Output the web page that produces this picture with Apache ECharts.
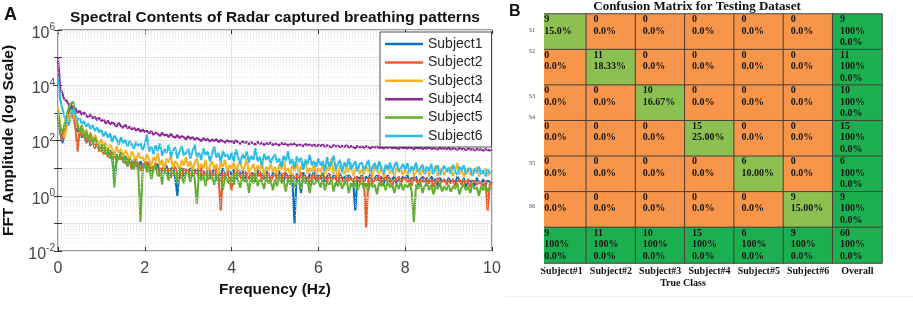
<!DOCTYPE html>
<html><head><meta charset="utf-8">
<script src="https://cdn.jsdelivr.net/npm/echarts@6/dist/echarts.min.js"></script>
<style>html,body{margin:0;padding:0;background:#fff}#c{width:913px;height:309px}</style>
</head><body><div id="c"></div>
<script>
// ---------- Panel A: spectral contents (values are log10 of FFT amplitude) ----------
const frequencyHz = Array.from({length: 201}, (_, i) => +(i * 0.05).toFixed(2));
const subjectNames = ['Subject1', 'Subject2', 'Subject3', 'Subject4', 'Subject5', 'Subject6'];
const subject1Log = [
2.9,2.3,1.9,2.2,2.7,3.0,3.2,2.9,2.6,2.3,2.45,2.1,2.3,1.9,2.15,1.8,2.05,1.75,1.9,1.65,
1.85,1.55,1.75,1.45,1.65,1.35,0.45,1.5,1.3,1.6,1.25,1.45,1.15,1.4,1.05,1.3,1.2,0.95,1.25,1.05,
1.15,0.9,1.2,0.8,1.05,0.95,1.15,0.7,1.0,0.85,1.1,0.75,0.95,1.05,0.65,0.0,0.9,1.0,0.7,0.95,
0.85,1.0,0.7,0.95,0.8,1.05,0.6,0.9,0.75,1.0,0.65,0.85,0.95,0.55,0.9,0.7,1.0,0.6,0.8,0.9,
0.75,0.95,0.6,0.85,0.7,1.0,0.55,0.8,0.9,0.65,0.85,0.5,0.95,0.7,0.8,0.6,0.9,0.75,0.55,0.85,
0.8,0.6,0.9,0.7,0.5,0.85,0.65,0.75,0.55,-1.0,0.8,0.6,0.1,0.85,0.7,0.5,0.8,0.65,0.9,0.55,
0.75,0.6,0.85,0.5,0.7,0.8,0.55,0.75,0.65,0.45,0.8,0.6,0.7,0.5,0.75,0.65,0.55,-0.55,0.7,0.6,
0.75,0.5,0.7,0.6,0.8,0.45,0.65,0.75,0.55,0.7,0.4,0.65,0.75,0.5,0.6,0.7,0.45,0.65,0.55,0.7,
0.6,0.75,0.5,0.65,0.55,0.7,0.4,0.6,0.7,0.5,0.65,0.45,0.7,0.55,0.6,0.35,0.65,0.5,0.6,0.45,
0.65,0.5,0.6,0.4,0.7,0.55,0.45,0.65,0.3,0.6,0.5,0.55,0.35,0.65,0.5,0.45,0.6,0.4,0.55,0.5,0.45];
const subject2Log = [
3.1,2.4,2.0,2.3,2.6,2.95,3.1,2.85,2.5,1.6,2.4,2.15,2.35,1.95,2.2,1.85,2.1,1.7,1.95,1.6,
1.8,1.5,1.7,1.4,1.6,1.3,1.55,1.2,1.45,1.3,1.5,1.15,1.35,1.25,0.95,1.3,1.1,1.2,0.9,1.15,
1.05,1.25,0.85,1.1,0.95,1.2,0.75,1.0,0.9,1.15,0.8,1.0,0.65,0.95,1.05,0.75,0.9,0.6,1.0,0.85,
0.95,0.7,1.0,0.8,0.9,0.6,1.05,0.75,0.85,0.55,0.95,0.7,0.8,1.0,0.65,-0.55,0.85,0.7,0.9,0.6,
0.2,0.85,0.65,0.95,0.7,0.55,0.9,0.75,0.6,0.85,0.5,0.8,0.7,0.9,0.55,0.75,0.65,0.85,0.5,0.7,
0.8,0.6,0.75,0.5,0.85,0.65,0.7,0.45,0.8,0.6,0.75,0.55,0.85,0.5,0.7,0.65,0.4,0.75,0.6,0.8,
0.55,0.75,0.6,0.7,0.45,0.8,0.55,0.65,0.75,0.5,0.7,0.6,0.4,0.75,0.55,0.65,0.5,0.7,0.6,0.45,
0.7,0.55,-1.15,0.6,0.7,0.45,0.65,0.55,0.75,0.4,0.6,0.7,0.5,0.65,0.35,0.6,0.55,0.7,0.45,0.6,
0.65,0.5,0.6,0.35,0.7,0.55,0.45,0.6,0.5,0.65,0.4,0.55,0.6,0.3,0.55,0.65,0.45,0.5,0.6,0.4,
0.55,0.45,0.6,0.35,0.5,0.6,0.4,0.55,0.45,0.6,0.3,0.5,0.55,0.4,0.5,0.45,0.35,0.55,-0.55,0.45,0.4];
const subject3Log = [
3.2,2.6,2.3,2.1,2.45,2.8,3.05,3.15,2.8,2.5,2.35,2.55,2.2,2.4,2.05,2.3,1.95,2.2,2.0,1.85,
2.05,1.75,1.95,1.6,1.85,1.7,1.45,1.8,1.55,1.7,1.4,1.65,1.5,1.3,1.6,1.45,1.25,1.55,1.35,1.4,
1.2,1.5,1.3,1.05,1.4,1.25,1.55,1.1,1.3,0.95,1.35,1.2,1.45,1.0,1.25,1.15,0.9,1.3,1.1,1.4,
1.05,1.25,0.9,1.2,1.35,0.95,1.15,1.0,1.3,0.85,1.1,1.25,0.95,1.15,0.8,1.2,1.05,1.3,0.9,1.1,
1.0,1.2,0.85,1.1,1.25,0.9,1.05,1.35,0.8,1.0,1.15,0.85,1.1,0.95,1.2,0.75,1.05,0.9,1.15,0.85,
1.05,0.8,1.15,0.95,1.25,0.85,1.0,0.75,1.1,0.9,1.2,0.8,1.05,0.95,1.3,0.8,1.0,0.88,1.12,0.78,
1.0,0.85,1.15,0.75,1.05,0.9,1.35,0.8,1.0,0.7,1.1,0.9,0.78,1.05,0.85,1.2,0.72,0.95,1.05,0.8,
0.95,0.75,1.1,0.85,1.0,0.7,1.15,0.9,0.8,1.05,0.68,0.95,1.1,0.8,0.9,0.72,1.02,0.85,0.95,0.75,
1.0,0.78,0.92,1.08,0.7,0.88,1.0,0.75,0.95,0.82,1.05,0.7,0.9,0.8,1.1,0.72,0.88,0.98,0.75,0.92,
0.85,1.05,0.72,0.9,1.18,0.78,0.95,0.7,0.88,1.0,0.75,0.92,0.82,1.05,0.7,0.9,0.8,0.98,0.72,0.85,0.8];
const subject4Log = [
5.02,3.88,3.7,3.48,3.44,3.28,3.3,3.12,3.18,3.0,3.08,2.92,3.02,2.9,2.84,2.95,2.8,2.86,2.74,2.82,
2.7,2.76,2.62,2.72,2.58,2.66,2.6,2.5,2.64,2.52,2.46,2.58,2.44,2.5,2.4,2.47,2.36,2.43,2.32,2.4,
2.3,2.36,2.25,2.34,2.2,2.3,2.24,2.16,2.28,2.18,2.22,2.12,2.24,2.14,2.1,2.2,2.08,2.16,2.12,2.04,
2.16,2.06,2.12,2.02,2.1,2.04,1.98,2.09,2.0,2.06,1.96,2.04,1.98,2.05,1.94,2.02,1.97,1.92,2.01,1.95,
1.98,1.9,2.0,1.93,1.88,1.97,1.91,1.95,1.86,1.94,1.9,1.85,1.95,1.88,1.92,1.84,1.91,1.87,1.93,1.83,
1.9,1.86,1.82,1.92,1.85,1.89,1.81,1.88,1.84,1.9,1.8,1.86,1.83,1.79,1.88,1.82,1.86,1.8,1.85,1.78,
1.84,1.8,1.86,1.77,1.83,1.79,1.75,1.84,1.78,1.82,1.76,1.81,1.77,1.83,1.74,1.8,1.76,1.72,1.81,1.75,
1.79,1.73,1.8,1.76,1.71,1.78,1.74,1.79,1.72,1.76,1.7,1.77,1.73,1.78,1.71,1.75,1.72,1.69,1.77,1.72,
1.75,1.7,1.76,1.72,1.68,1.75,1.71,1.74,1.69,1.73,1.7,1.76,1.68,1.72,1.7,1.67,1.74,1.69,1.72,1.68,
1.73,1.67,1.71,1.69,1.66,1.72,1.68,1.7,1.65,1.71,1.67,1.69,1.64,1.7,1.66,1.68,1.63,1.69,1.66,1.64,1.67];
const subject5Log = [
3.0,2.5,2.2,2.6,2.9,3.2,3.35,3.4,3.0,2.6,2.3,2.55,2.1,2.35,2.0,2.25,1.85,2.1,1.9,1.75,
1.6,1.85,1.5,1.7,1.35,1.6,0.3,1.45,1.3,1.55,1.2,1.4,1.05,1.35,1.15,0.95,1.3,1.0,-0.95,0.9,
1.2,0.85,1.1,0.6,0.95,1.15,0.7,0.9,0.4,1.0,0.8,0.55,0.95,0.75,0.85,0.5,1.0,0.7,0.45,0.85,
0.8,0.5,0.95,0.6,-0.3,0.85,0.55,0.75,0.35,0.9,0.6,0.7,0.4,0.8,0.5,0.65,0.2,0.75,0.55,0.45,
0.7,0.4,0.85,0.55,0.3,0.75,0.5,0.6,0.1,0.7,0.45,0.8,0.35,0.6,0.5,0.25,0.7,0.45,0.55,0.2,
0.6,0.35,0.75,0.45,0.55,0.15,0.65,0.4,0.7,0.3,0.5,0.6,0.25,0.7,0.45,0.55,0.1,0.6,0.4,0.5,
0.55,0.3,0.65,0.2,0.5,0.4,0.6,0.15,0.5,0.35,0.55,0.25,0.45,0.6,0.1,0.45,0.3,0.55,0.2,0.4,
0.5,0.25,0.45,0.15,0.55,0.3,0.4,0.05,0.5,0.35,0.45,0.2,0.55,0.3,0.4,0.1,0.45,0.25,0.5,0.2,
0.4,0.3,0.45,0.15,-0.95,0.4,0.25,0.5,0.1,0.35,0.45,0.2,0.4,0.05,0.35,0.25,0.45,0.15,0.35,0.2,
0.4,0.15,0.35,0.25,0.45,0.05,0.3,0.4,0.2,0.35,0.1,0.4,0.25,0.3,0.0,0.35,0.2,0.4,0.15,0.3,0.25];
const subject6Log = [
4.25,3.5,3.15,2.85,2.7,2.55,2.9,3.15,2.95,2.75,2.8,2.6,2.7,2.5,2.62,2.42,2.55,2.35,2.48,2.3,
2.38,2.15,2.32,2.1,2.25,1.95,2.18,2.05,1.85,2.12,1.9,2.02,1.78,1.98,1.85,1.7,1.95,1.8,1.9,1.65,
1.85,2.2,1.6,1.78,1.5,1.82,1.62,1.9,1.45,1.7,1.55,1.85,1.4,1.65,1.75,1.35,1.6,1.8,1.45,1.55,
1.7,1.35,1.6,1.85,1.4,1.55,1.3,1.72,1.48,1.6,1.25,1.5,1.78,1.38,1.55,1.2,1.62,1.42,1.5,1.3,
1.55,1.25,1.68,1.4,1.15,1.5,1.35,1.6,1.2,1.45,1.3,1.72,1.25,1.4,1.1,1.52,1.3,1.45,1.18,1.38,
1.5,1.2,1.35,1.05,1.45,1.25,1.6,1.15,1.32,1.0,1.42,1.22,1.38,0.95,1.3,1.15,1.48,1.1,1.25,1.05,
1.35,1.1,1.25,0.9,1.4,1.05,1.2,1.45,0.95,1.15,1.3,0.85,1.2,1.05,1.35,0.95,1.1,1.25,0.88,1.15,
1.2,0.92,1.1,1.3,0.85,1.05,1.18,0.9,1.25,1.0,0.8,1.12,0.95,1.2,0.85,1.08,1.22,0.9,1.0,1.15,
0.95,1.18,0.82,1.05,0.92,1.2,0.85,1.0,1.12,0.78,1.05,0.9,1.15,0.8,0.98,1.1,0.75,0.95,1.08,0.88,
1.02,0.8,1.12,0.9,0.75,1.05,0.92,1.1,0.78,0.95,1.0,0.72,0.98,0.85,1.05,0.78,0.92,0.7,0.95,0.82,0.9];
const subjectLogs = [subject1Log, subject2Log, subject3Log, subject4Log, subject5Log, subject6Log];
const subjectColors = ['#0b6fbf', '#f05b27', '#f6b21d', '#8b2a95', '#5fae2f', '#27bdeb'];
const frequencyTicks = [0, 2, 4, 6, 8, 10];

// ---------- Panel B: confusion matrix ----------
const classLabels = ['Subject#1', 'Subject#2', 'Subject#3', 'Subject#4', 'Subject#5', 'Subject#6', 'Overall'];
const rowLabels = ['S1', 'S2', 'S3', 'S4', 'S5', 'S6'];
const confusionCounts = [
  [9, 0, 0, 0, 0, 0],
  [0, 11, 0, 0, 0, 0],
  [0, 0, 10, 0, 0, 0],
  [0, 0, 0, 15, 0, 0],
  [0, 0, 0, 0, 6, 0],
  [0, 0, 0, 0, 0, 9]
];
const confusionPct = [
  ['15.0%', '0.0%', '0.0%', '0.0%', '0.0%', '0.0%'],
  ['0.0%', '18.33%', '0.0%', '0.0%', '0.0%', '0.0%'],
  ['0.0%', '0.0%', '16.67%', '0.0%', '0.0%', '0.0%'],
  ['0.0%', '0.0%', '0.0%', '25.00%', '0.0%', '0.0%'],
  ['0.0%', '0.0%', '0.0%', '0.0%', '10.00%', '0.0%'],
  ['0.0%', '0.0%', '0.0%', '0.0%', '0.0%', '15.00%']
];
const rowTotals = [9, 11, 10, 15, 6, 9];
const colTotals = [9, 11, 10, 15, 6, 9];
const overallTotal = 60;
const correctPct = '100%';
const errorPct = '0.0%';

const SANS = '"Liberation Sans", Arial, Helvetica, sans-serif';
const SERIF = '"Liberation Serif", "Times New Roman", serif';
const ORANGE = '#f7964a', LIGHTGREEN = '#8cc152', DARKGREEN = '#1caf50';

const cells = [];
for (let r = 0; r < 7; r++) {
  for (let c = 0; c < 7; c++) {
    let text, color, count;
    if (r < 6 && c < 6) {
      count = confusionCounts[r][c];
      text = count + '\n' + confusionPct[r][c];
      color = r === c ? LIGHTGREEN : ORANGE;
    } else {
      count = r < 6 ? rowTotals[r] : (c < 6 ? colTotals[c] : overallTotal);
      text = count + '\n' + correctPct + '\n' + errorPct;
      color = DARKGREEN;
    }
    cells.push({ value: [c, r, count], itemStyle: { color: color }, label: { formatter: text } });
  }
}

const minorGridValues = [];
for (let k = -2; k < 6; k++) for (let m = 2; m < 10; m++) minorGridValues.push(m * Math.pow(10, k));

const chart = echarts.init(document.getElementById('c'), null, { renderer: 'canvas' });

const lineSeries = subjectNames.map((name, i) => ({
  name: name,
  type: 'line',
  xAxisIndex: 0, yAxisIndex: 0,
  data: frequencyHz.map((f, j) => [f, Math.pow(10, subjectLogs[i][j])]),
  showSymbol: false,
  symbol: 'none',
  color: subjectColors[i],
  lineStyle: { width: 2.1, color: subjectColors[i] },
  emphasis: { disabled: true },
  animation: false,
  z: 3
}));

const option = {
  animation: false,
  backgroundColor: '#ffffff',
  title: [
    { text: 'Spectral Contents of Radar captured breathing patterns', left: 275, top: 10, padding: 0, textAlign: 'center',
      textStyle: { fontFamily: SANS, fontWeight: 'bold', fontSize: 15.5, color: '#111' } },
    { text: 'Confusion Matrix for Testing Dataset', left: 697, top: 0, padding: 0, textAlign: 'center',
      textStyle: { fontFamily: SERIF, fontWeight: 'bold', fontSize: 13, color: '#111' } }
  ],
  legend: {
    data: subjectNames,
    orient: 'vertical',
    left: 380, top: 32,
    icon: 'rect', itemWidth: 38, itemHeight: 2.5, itemGap: 2.4,
    padding: [4, 9, 3, 5],
    backgroundColor: '#ffffff', borderColor: '#262626', borderWidth: 0.8,
    textStyle: { fontFamily: SANS, fontSize: 14, color: '#262626', lineHeight: 16 },
    selectedMode: false,
    z: 10
  },
  grid: [
    { left: 58, top: 30, width: 434, height: 221, show: true, borderColor: '#333', borderWidth: 1, containLabel: false, outerBoundsMode: 'none' },
    { left: 537, top: 14, width: 345, height: 249, containLabel: false, outerBoundsMode: 'none' }
  ],
  xAxis: [
    { type: 'value', gridIndex: 0, min: 0, max: 10, interval: 2,
      name: 'Frequency (Hz)', nameLocation: 'middle', nameGap: 31,
      nameTextStyle: { fontFamily: SANS, fontWeight: 'bold', fontSize: 15.5, color: '#111' },
      axisLine: { show: false },
      axisTick: { show: true, inside: true, length: 4, lineStyle: { color: '#333' } },
      axisLabel: { fontFamily: SANS, fontSize: 16, color: '#444', margin: 10,
        formatter: v => frequencyTicks.includes(v) ? String(v) : '' },
      splitLine: { show: true, lineStyle: { color: '#e3e3e3', width: 1 } } },
    { type: 'category', gridIndex: 1, data: classLabels, position: 'bottom',
      axisLine: { show: false }, axisTick: { show: false },
      axisLabel: { fontFamily: SERIF, fontWeight: 'bold', fontSize: 10, color: '#111', margin: 3, interval: 0 },
      splitLine: { show: false } },
    { type: 'value', gridIndex: 0, min: 0, max: 10, interval: 2, position: 'top',
      axisLine: { show: false }, axisLabel: { show: false },
      axisTick: { show: true, inside: true, length: 4, lineStyle: { color: '#333' } },
      splitLine: { show: false } }
  ],
  yAxis: [
    { type: 'log', logBase: 10, gridIndex: 0, min: 0.01, max: 1e6,
      name: 'FFT Amplitude (log Scale)', nameLocation: 'middle', nameGap: 41, nameRotate: 90,
      nameTextStyle: { fontFamily: SANS, fontWeight: 'bold', fontSize: 15.5, color: '#111' },
      axisLine: { show: false },
      axisTick: { show: true, inside: true, length: 4, lineStyle: { color: '#333' } },
      axisLabel: {
        margin: 3,
        formatter: v => { const e = Math.round(Math.log10(v)); return e % 2 === 0 ? '{b|10}{s|' + e + '}' : ''; },
        rich: {
          b: { fontFamily: SANS, fontSize: 16, color: '#444', padding: [7, 0, 0, 0] },
          s: { fontFamily: SANS, fontSize: 10, color: '#444', padding: [0, 0, 5, 0] }
        }
      },
      splitLine: { show: true, lineStyle: { color: '#e3e3e3', width: 1 } } },
    { type: 'category', gridIndex: 1, data: [0, 1, 2, 3, 4, 5, 6], inverse: true,
      axisLine: { show: false }, axisTick: { show: false }, axisLabel: { show: false }, splitLine: { show: false } },
    { type: 'log', logBase: 10, gridIndex: 0, min: 0.01, max: 1e6, position: 'right',
      axisLine: { show: false }, axisLabel: { show: false },
      axisTick: { show: true, inside: true, length: 4, lineStyle: { color: '#333' } },
      splitLine: { show: false } }
  ],
  series: [
    { type: 'line', name: 'minorGrid', xAxisIndex: 0, yAxisIndex: 0, data: [], silent: true, z: 1,
      markLine: { silent: true, symbol: 'none', animation: false, label: { show: false },
        lineStyle: { color: '#dcdcdc', type: [1, 2], width: 0.8 },
        emphasis: { disabled: true },
        data: minorGridValues.map(v => ({ yAxis: v })) } },
    ...lineSeries,
    { type: 'heatmap', xAxisIndex: 1, yAxisIndex: 1, data: cells,
      itemStyle: { borderColor: '#4a4038', borderWidth: 1 },
      label: { show: true, position: [8, 0.5], align: 'left', verticalAlign: 'top',
        fontFamily: SERIF, fontWeight: 'bold', fontSize: 10, lineHeight: 11.5, color: '#151515' },
      emphasis: { disabled: true }, silent: true, z: 2 }
  ],
  graphic: [
    { type: 'text', left: 4, top: 6, style: { text: 'A', fontFamily: SANS, fontWeight: 'bold', fontSize: 18, fill: '#111' } },
    { type: 'text', left: 509, top: 4, style: { text: 'B', fontFamily: SANS, fontWeight: 'bold', fontSize: 16, fill: '#111' } },
    { type: 'rect', shape: { x: 528, y: 12, width: 16, height: 256 }, style: { fill: '#ffffff' }, z: 50 },
    { type: 'line', shape: { x1: 505, y1: 296.5, x2: 913, y2: 296.5 }, style: { stroke: '#eeeeee', lineWidth: 1 }, z: 50 },
    { type: 'text', x: 683, y: 283, z: 60, style: { text: 'True Class', fontFamily: SERIF, fontWeight: 'bold', fontSize: 10, fill: '#111', align: 'center', verticalAlign: 'middle' } },
    ...rowLabels.map((t, i) => ({ type: 'text', x: 532, y: [31, 52, 97, 118, 164, 207][i], z: 60,
      style: { text: t, fontFamily: SERIF, fontSize: 5.5, fill: '#333', align: 'center', verticalAlign: 'middle' } }))
  ]
};
chart.setOption(option);
</script>
</body></html>
